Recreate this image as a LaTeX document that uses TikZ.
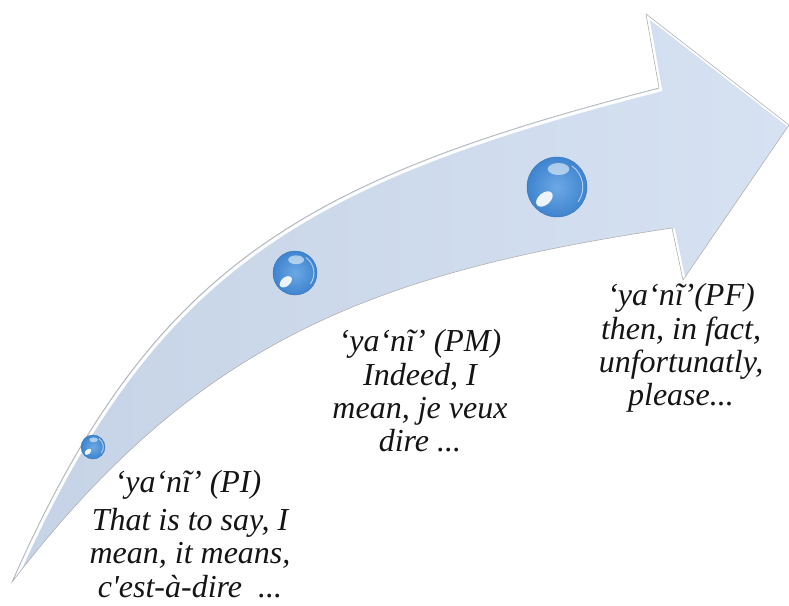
\documentclass[tikz,border=0pt]{standalone}
\usepackage{fontspec}
\setmainfont{Liberation Serif}[Ligatures=TeXOff]
\usetikzlibrary{calc}
\newcommand\sphhl[2]{%
  \fill[white, opacity=0.55] ($(#1.center)+(0.05*#2,-0.6*#2)$) ellipse ({0.36*#2} and {0.2*#2});
  \fill[white, opacity=0.9, shift={($(#1.center)+(-0.42*#2,0.4*#2)$)}, rotate=40] (0,0) ellipse ({0.32*#2} and {0.2*#2});
  \draw[white, opacity=0.6, line width=0.7pt] ($(#1.center)+(-55:0.86*#2)$) arc (-55:35:{0.86*#2});
}
\begin{document}
\begin{tikzpicture}[x=0.75pt,y=-0.75pt,
  lbl/.style={font=\itshape\fontsize{24}{25}\selectfont, align=center, inner sep=0pt, text=black!92},
  sph/.style={circle, inner sep=0pt, draw={rgb,255:red,55;green,115;blue,185}, line width=0.3pt,
    inner color={rgb,255:red,108;green,168;blue,230}, outer color={rgb,255:red,62;green,132;blue,206}}
]
\useasboundingbox (0,0) rectangle (789,606);
\def\arrowpath{(12,582) .. controls (197,341) and (372,273) .. (672,228) -- (683,280) -- (789,125) -- (646,14) -- (659,88) .. controls (300,180) and (150,268) .. (12,582) -- cycle}
% arrow body
\shade[left color={rgb,255:red,198;green,211;blue,230}, right color={rgb,255:red,214;green,226;blue,242}] \arrowpath;
\begin{scope}
  \clip \arrowpath;
  \draw[white, line width=2.2pt, shift={(1.6,2)}] \arrowpath;
\end{scope}
\draw[gray!65, line width=0.4pt] \arrowpath;
% spheres
\node[sph, minimum size=18] (s1) at (93,447) {};
\node[sph, minimum size=33] (s2) at (295,273) {};
\node[sph, minimum size=45] (s3) at (557,187) {};
\sphhl{s1}{12}
\sphhl{s2}{22}
\sphhl{s3}{30}
% texts
\node[lbl] (piT) at (188,485) {‘ya‘nĩ’ (PI)};
\node[lbl] (piB) at (190,553) {That is to say, I\\mean, it means,\\c'est-à-dire\ \ ...};
\node[lbl] (pm) at (420,391) {‘ya‘nĩ’ (PM)\\Indeed, I\\mean, je veux\\dire ...};
\node[lbl] (pf) at (681,348) {‘ya‘nĩ’(PF)\\then, in fact,\\unfortunatly,\\please...};
\end{tikzpicture}
\end{document}
